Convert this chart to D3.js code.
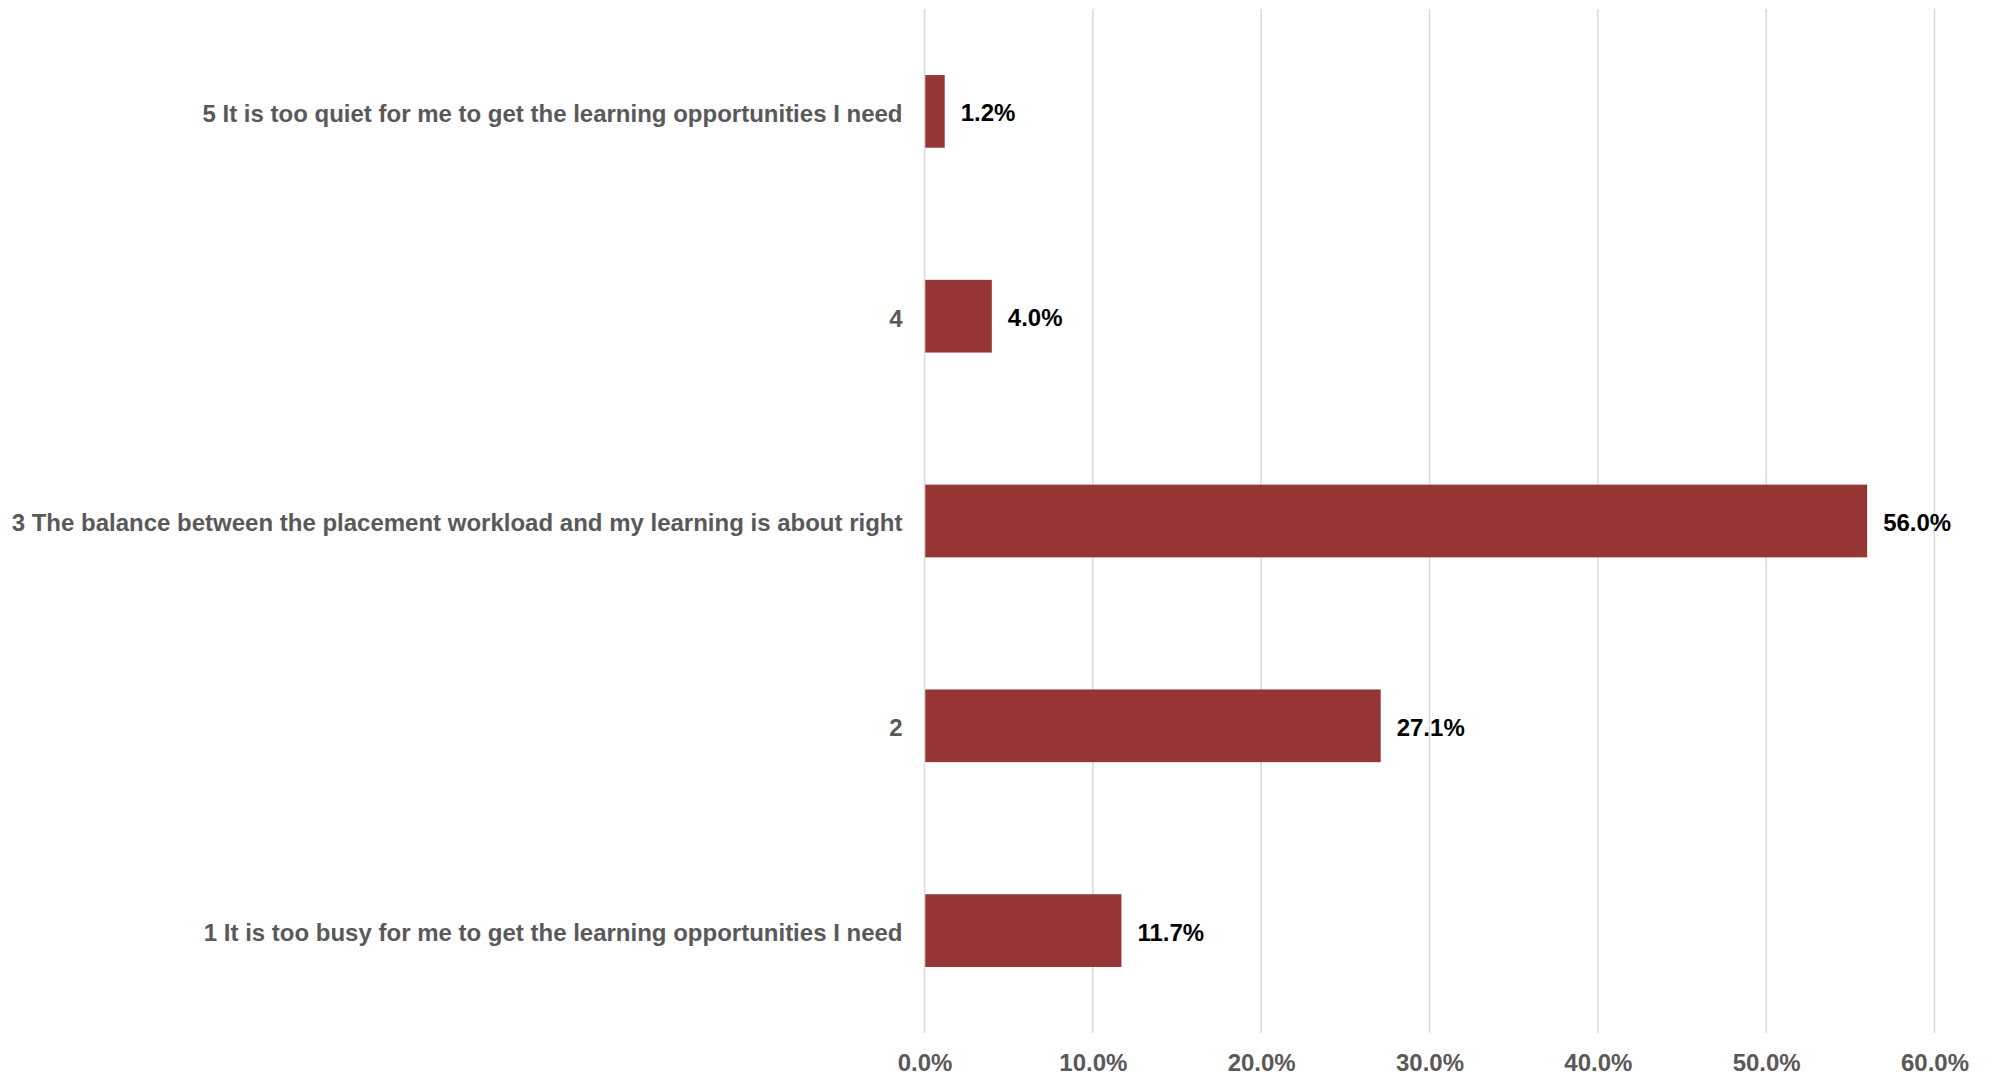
<!DOCTYPE html>
<html><head><meta charset="utf-8">
<script src="https://cdn.jsdelivr.net/npm/d3@7"></script>
<style>html,body{margin:0;padding:0;background:#fff;}svg{display:block;font-family:"Liberation Sans",Arial,sans-serif;}</style>
</head><body>
<svg id="chart" width="1993" height="1080"></svg>
<script>
const categories = [
  "5 It is too quiet for me to get the learning opportunities I need",
  "4",
  "3 The balance between the placement workload and my learning is about right",
  "2",
  "1 It is too busy for me to get the learning opportunities I need"
];
const values = [1.2, 4.0, 56.0, 27.1, 11.7];
const tickValues = [0, 10, 20, 30, 40, 50, 60];

const svg = d3.select("#chart");
const x = d3.scaleLinear().domain([0, 60]).range([924.5, 1934.5]);
const y = d3.scaleBand().domain(categories).range([9, 1033]).paddingInner(0.645).paddingOuter(0.3225);

// gridlines
svg.append("g").selectAll("line").data(tickValues).join("line")
  .attr("x1", d => x(d)).attr("x2", d => x(d))
  .attr("y1", 9).attr("y2", 1033)
  .attr("stroke", "#d9d9d9").attr("stroke-width", 1.5);

// x axis labels
const xAxis = d3.axisBottom(x).tickValues(tickValues).tickFormat(d => d.toFixed(1) + "%").tickSize(0).tickPadding(0);
const gx = svg.append("g").attr("transform", "translate(0,1054)").call(xAxis);
gx.select(".domain").remove();
gx.selectAll("text").attr("font-size", 24).attr("font-weight", "bold").attr("fill", "#595959")
  .attr("font-family", "'Liberation Sans',Arial,sans-serif").attr("dy", "0.71em").attr("y", 0);

// y axis labels
const yAxis = d3.axisLeft(y).tickSize(0).tickPadding(22);
const gy = svg.append("g").attr("transform", `translate(${x(0)},0)`).call(yAxis);
gy.select(".domain").remove();
gy.selectAll("text").attr("font-size", 24).attr("font-weight", "bold").attr("fill", "#595959")
  .attr("font-family", "'Liberation Sans',Arial,sans-serif").attr("dy", "0.43em");

// bars
svg.append("g").selectAll("rect").data(values).join("rect")
  .attr("x", x(0) + 0.75)
  .attr("y", (d, i) => y(categories[i]))
  .attr("width", d => x(d) - x(0) - 0.75)
  .attr("height", y.bandwidth())
  .attr("fill", "#963634");

// value labels
svg.append("g").selectAll("text").data(values).join("text")
  .attr("x", d => x(d) + 16)
  .attr("y", (d, i) => y(categories[i]) + y.bandwidth() / 2)
  .attr("dy", "0.42em")
  .attr("font-size", 24).attr("font-weight", "bold").attr("fill", "#000")
  .text(d => d.toFixed(1) + "%");
</script>
</body></html>
